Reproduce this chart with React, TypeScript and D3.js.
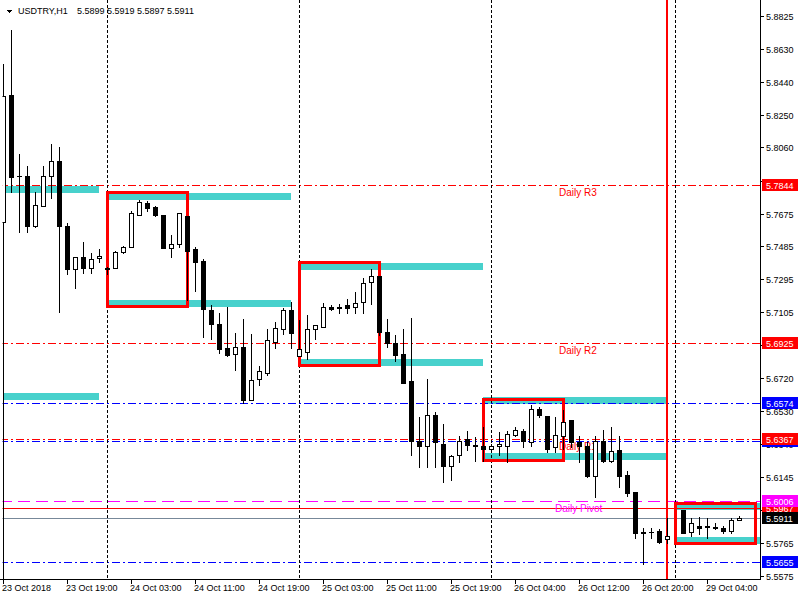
import React from "react";
import * as d3 from "d3";

// ---------- data ----------
const symbolName = "USDTRY,H1";
const lastQuote = [5.5899, 5.5919, 5.5897, 5.5911];

const opens: (number | null)[] = [
  5.7629, 5.8361, 5.7893, 5.7891, 5.7606, 5.7722, 5.7891, 5.7978, 5.7606, 5.7351,
  5.7426, 5.7357, 5.7415, 5.7357, 5.7357, 5.7455, 5.7484, 5.767, 5.7734, 5.7711,
  5.767, 5.7473, 5.7496, 5.7664, 5.7467, 5.7403, 5.7113, 5.7032, 5.6898, 5.6863,
  5.6904, 5.6591, 5.6718, 5.6753, 5.6933, 5.7008, 5.7113, 5.6846, 5.6875, 5.7008,
  5.702, 5.7136, 5.7136, 5.7142, 5.7136, 5.7165, 5.7281, 5.7316, 5.6991, 5.6927,
  5.6858, 5.6701, 5.6353, 5.6324, 5.6504, 5.6341, 5.6213, 5.6277, 5.637, 5.6335,
  5.6329, 5.6312, 5.6324, 5.6329, 5.6393, 5.6416, 5.6347, 5.6544, 5.6498, 5.6318,
  5.6387, 5.6475, 5.6347, 5.6324, 5.6155, 5.6353, 5.6237, 5.6306, 5.6161, 5.6057,
  5.583, 5.583, 5.5836, 5.5784, null, 5.5958, 5.583, 5.5865, 5.586, 5.5859,
  5.5853, 5.5836, 5.5899,
];
const highs: (number | null)[] = [
  5.8541, 5.8738, 5.8024, 5.7949, 5.7798, 5.7949, 5.8082, 5.8059, 5.7618, 5.7426,
  5.7508, 5.7444, 5.7467, 5.7368, 5.7461, 5.749, 5.7693, 5.7757, 5.7751, 5.7722,
  5.767, 5.7554, 5.7676, 5.7664, 5.7479, 5.7409, 5.7142, 5.7096, 5.7136, 5.6985,
  5.7066, 5.6979, 5.6788, 5.7003, 5.7049, 5.7125, 5.7165, 5.7055, 5.7084, 5.7026,
  5.7154, 5.7142, 5.7148, 5.7177, 5.7223, 5.7304, 5.7351, 5.7316, 5.7061, 5.6968,
  5.7003, 5.7072, 5.6492, 5.6718, 5.6521, 5.6457, 5.6277, 5.6387, 5.6416, 5.6376,
  5.6434, 5.6341, 5.6405, 5.6416, 5.6434, 5.6428, 5.6567, 5.655, 5.6498, 5.6492,
  5.6538, 5.6475, 5.6382, 5.6347, 5.6382, 5.6422, 5.6434, 5.6387, 5.6179, 5.6062,
  5.5848, 5.5848, 5.5842, 5.5911, null, 5.5958, 5.5911, 5.5917, 5.5911, 5.5877,
  5.5865, 5.5906, 5.5919,
];
const lows: (number | null)[] = [
  5.556, 5.7798, 5.7566, 5.7571, 5.7595, 5.7717, 5.7763, 5.7107, 5.7322, 5.7246,
  5.7333, 5.7333, 5.7392, 5.7322, 5.7357, 5.7444, 5.7484, 5.767, 5.7688, 5.7664,
  5.7473, 5.7426, 5.7484, 5.7171, 5.7229, 5.6962, 5.6945, 5.6869, 5.6846, 5.6765,
  5.6579, 5.6591, 5.6678, 5.6736, 5.6898, 5.6979, 5.6898, 5.6846, 5.6829, 5.6945,
  5.702, 5.7113, 5.7101, 5.7101, 5.7101, 5.7101, 5.7148, 5.6968, 5.6904, 5.6817,
  5.6695, 5.6277, 5.6202, 5.6202, 5.6202, 5.6115, 5.6132, 5.6231, 5.6306, 5.6242,
  5.6237, 5.63, 5.6277, 5.6231, 5.6382, 5.6318, 5.6324, 5.6492, 5.6289, 5.6289,
  5.6312, 5.6318, 5.6231, 5.6144, 5.6033, 5.6231, 5.6231, 5.6091, 5.6039, 5.579,
  5.5639, 5.579, 5.5766, 5.5766, null, 5.5819, 5.5807, 5.5813, 5.5795, 5.5842,
  5.5824, 5.5824, 5.5897,
];
const closes: (number | null)[] = [
  5.8355, 5.7885, 5.7891, 5.7606, 5.7728, 5.7891, 5.7978, 5.7606, 5.7351, 5.7426,
  5.7357, 5.7409, 5.7432, 5.7351, 5.7455, 5.7484, 5.7676, 5.7745, 5.7705, 5.767,
  5.7473, 5.7496, 5.7676, 5.7461, 5.7397, 5.7119, 5.7032, 5.6892, 5.6852, 5.6904,
  5.6591, 5.6712, 5.6759, 5.6939, 5.7014, 5.7113, 5.6985, 5.6887, 5.7008, 5.7026,
  5.7136, 5.7119, 5.713, 5.713, 5.7159, 5.7275, 5.7316, 5.6991, 5.6927, 5.6852,
  5.6695, 5.6353, 5.6324, 5.6504, 5.6347, 5.6213, 5.6266, 5.6358, 5.6335, 5.6324,
  5.6312, 5.6329, 5.6341, 5.6399, 5.6422, 5.6353, 5.6544, 5.6504, 5.6312, 5.6393,
  5.6463, 5.6347, 5.6324, 5.6155, 5.6353, 5.6237, 5.63, 5.6155, 5.6051, 5.5824,
  5.5824, 5.5826, 5.5772, 5.5807, null, 5.5824, 5.5877, 5.5848, 5.5859, 5.5848,
  5.5836, 5.59, 5.5911,
];

const timeTickBars = [0, 8, 16, 24, 32, 40, 48, 56, 64, 72, 80, 88];
const timeTickLabels = [
  "23 Oct 2018", "23 Oct 19:00", "24 Oct 03:00", "24 Oct 11:00", "24 Oct 19:00", "25 Oct 03:00",
  "25 Oct 11:00", "25 Oct 19:00", "26 Oct 04:00", "26 Oct 12:00", "26 Oct 20:00", "29 Oct 04:00",
];
const priceTicks = [
  5.8825, 5.863, 5.844, 5.825, 5.806, 5.7865, 5.7675, 5.7485, 5.7295, 5.7105, 5.6915, 5.672,
  5.653, 5.634, 5.6145, 5.5955, 5.5765, 5.5575,
];
const daySeparatorBars = [13, 37, 61, 84];
const markerBar = 83;

const pivotNames = ["Daily R3", "Daily R2", "Daily R1", "Daily Pivot"];
const pivotValues = [5.7844, 5.6925, 5.6367, 5.6006];
const blueLevels = [5.6574, 5.6355, 5.5655];
const redLevel = 5.5967;
const bidPrice = 5.5911;

const boxStartBars = [13, 37, 60, 84];
const boxEndBars = [23, 47, 70, 94];
const boxHighs = [5.7798, 5.7392, 5.6602, 5.5996];
const boxLows = [5.7139, 5.6797, 5.6245, 5.5764];

const bandStartBars = [0, 0, 13, 13, 37, 37, 60, 60, 84, 84];
const bandEndBars = [12, 12, 36, 36, 60, 60, 83, 83, 96, 96];
const bandValues = [5.7814, 5.6614, 5.7777, 5.7156, 5.7371, 5.6814, 5.6591, 5.6263, 5.5978, 5.5781];

// ---------- layout ----------
const W = 800;
const H = 600;
const PLOT_R = 760;
const PLOT_B = 579;
const FONT = "'Liberation Sans', Arial, sans-serif";
const RED = "#ff0000";
const BLUE = "#0000ff";
const MAGENTA = "#ff00ff";
const CYAN = "#48d1cc";
const DASHDOT = "8,3,2,3";

export default function App() {
  const x = d3.scaleLinear().domain([0, 92]).range([3, 739]);
  const y = d3.scaleLinear().domain([5.5575, 5.8825]).range([575.5, 15.5]);
  const py = (p: number) => Math.round(y(p));
  const bx = (i: number) => Math.round(x(i));
  const fmt = d3.format(".4f");

  const hLine = (p: number, color: string, dash: string | undefined, key: string) => (
    <line key={key} x1={0} x2={PLOT_R} y1={py(p) + 0.5} y2={py(p) + 0.5} stroke={color} strokeWidth={1} strokeDasharray={dash} />
  );

  const priceBox = (p: number, color: string, key: string) => {
    const yy = py(p);
    return (
      <g key={key}>
        <rect x={762} y={yy - 6} width={36} height={12} fill={color} />
        <text x={766} y={yy + 3.5} fill="#fff" fontSize={9} fontFamily={FONT}>{fmt(p)}</text>
      </g>
    );
  };

  const candles = opens.map((o, i) => {
    const h = highs[i], l = lows[i], c = closes[i];
    if (o === null || h === null || l === null || c === null) return null;
    const cx = bx(i);
    const yo = py(o), yc = py(c), yh = py(h), yl = py(l);
    const top = Math.min(yo, yc), bot = Math.max(yo, yc);
    const bull = c >= o;
    return (
      <g key={"c" + i}>
        <line x1={cx + 0.5} x2={cx + 0.5} y1={yh} y2={yl + 1} stroke="#000" strokeWidth={1} />
        {bot - top >= 1 ? (
          <rect x={cx - 2 + 0.5} y={top + 0.5} width={4} height={bot - top} fill={bull ? "#fff" : "#000"} stroke="#000" strokeWidth={1} />
        ) : (
          <line x1={cx - 2} x2={cx + 3} y1={top + 0.5} y2={top + 0.5} stroke="#000" strokeWidth={1} />
        )}
      </g>
    );
  });

  return (
    <svg width={W} height={H} style={{ position: "absolute", left: 0, top: 0, display: "block" }} shapeRendering="crispEdges">
      <defs>
        <clipPath id="plot">
          <rect x={2.5} y={0} width={PLOT_R - 2.5} height={PLOT_B} />
        </clipPath>
      </defs>
      <rect x={0} y={0} width={W} height={H} fill="#fff" />

      <g clipPath="url(#plot)">
        {/* cyan bands */}
        {bandValues.map((v, i) => (
          <line key={"b" + i} x1={bx(bandStartBars[i])} x2={bx(bandEndBars[i])} y1={y(v)} y2={y(v)} stroke={CYAN} strokeWidth={7} />
        ))}
        {/* level lines */}
        {pivotValues.slice(0, 3).map((v, i) => hLine(v, RED, DASHDOT, "r" + i))}
        {blueLevels.map((v, i) => hLine(v, BLUE, DASHDOT, "bl" + i))}
        {hLine(pivotValues[3], MAGENTA, "12,6", "pv")}
        {hLine(redLevel, RED, undefined, "rl")}
        {hLine(bidPrice, "#778899", undefined, "bid")}
        {/* pivot labels */}
        {pivotNames.map((n, i) => (
          <text key={"pn" + i} x={bx(69) + (i === 3 ? 0 : 4)} y={py(pivotValues[i]) + 11} fill={i === 3 ? MAGENTA : RED} fontSize={10} fontFamily={FONT}>{n}</text>
        ))}
        {/* day separators */}
        {daySeparatorBars.map((b, i) => (
          <line key={"d" + i} x1={bx(b) + 0.5} x2={bx(b) + 0.5} y1={0} y2={PLOT_B} stroke="#000" strokeWidth={1} strokeDasharray="3,2" />
        ))}
        {/* marker vertical line */}
        <line x1={bx(markerBar)} x2={bx(markerBar)} y1={0} y2={PLOT_B} stroke={RED} strokeWidth={2} />
        {/* boxes */}
        {boxHighs.map((hv, i) => (
          <rect key={"bx" + i} x={bx(boxStartBars[i])} y={py(hv)} width={bx(boxEndBars[i]) - bx(boxStartBars[i])} height={py(boxLows[i]) - py(hv)} fill="none" stroke={RED} strokeWidth={3} />
        ))}
        {/* candles */}
        {candles}
      </g>

      {/* frame */}
      <line x1={PLOT_R + 0.5} x2={PLOT_R + 0.5} y1={0} y2={PLOT_B + 1} stroke="#000" />
      <line x1={0} x2={PLOT_R + 1} y1={PLOT_B + 0.5} y2={PLOT_B + 0.5} stroke="#000" />

      {/* price axis */}
      {priceTicks.map((p, i) => (
        <g key={"pt" + i}>
          <line x1={PLOT_R} x2={PLOT_R + 4} y1={py(p) + 0.5} y2={py(p) + 0.5} stroke="#000" />
          <text x={766} y={py(p) + 3.5} fontSize={9} fontFamily={FONT} fill="#000">{fmt(p)}</text>
        </g>
      ))}
      {/* time axis */}
      {timeTickBars.map((b, i) => (
        <g key={"tt" + i}>
          <line x1={bx(b) + 0.5} x2={bx(b) + 0.5} y1={PLOT_B} y2={PLOT_B + 5} stroke="#000" />
          <text x={bx(b) - 1} y={591} fontSize={9} fontFamily={FONT} fill="#000">{timeTickLabels[i]}</text>
        </g>
      ))}

      {/* level price boxes */}
      {priceBox(pivotValues[0], RED, "lb0")}
      {priceBox(pivotValues[1], RED, "lb1")}
      {priceBox(blueLevels[0], BLUE, "lb2")}
      {priceBox(blueLevels[1], BLUE, "lb3")}
      {priceBox(pivotValues[2], RED, "lb4")}
      {priceBox(redLevel, RED, "lb5")}
      {priceBox(pivotValues[3], MAGENTA, "lb6")}
      {priceBox(blueLevels[2], BLUE, "lb7")}
      {priceBox(bidPrice, "#000", "lb8")}

      {/* title */}
      <path d="M6.5,9.5 L12.5,9.5 L9.5,13.5 Z" fill="#000" />
      <text x={18} y={14} fontSize={9} fontFamily={FONT} fill="#000">{symbolName}</text>
      <text x={77} y={14} fontSize={9} fontFamily={FONT} fill="#000">{lastQuote.map((v) => fmt(v)).join(" ")}</text>
    </svg>
  );
}
